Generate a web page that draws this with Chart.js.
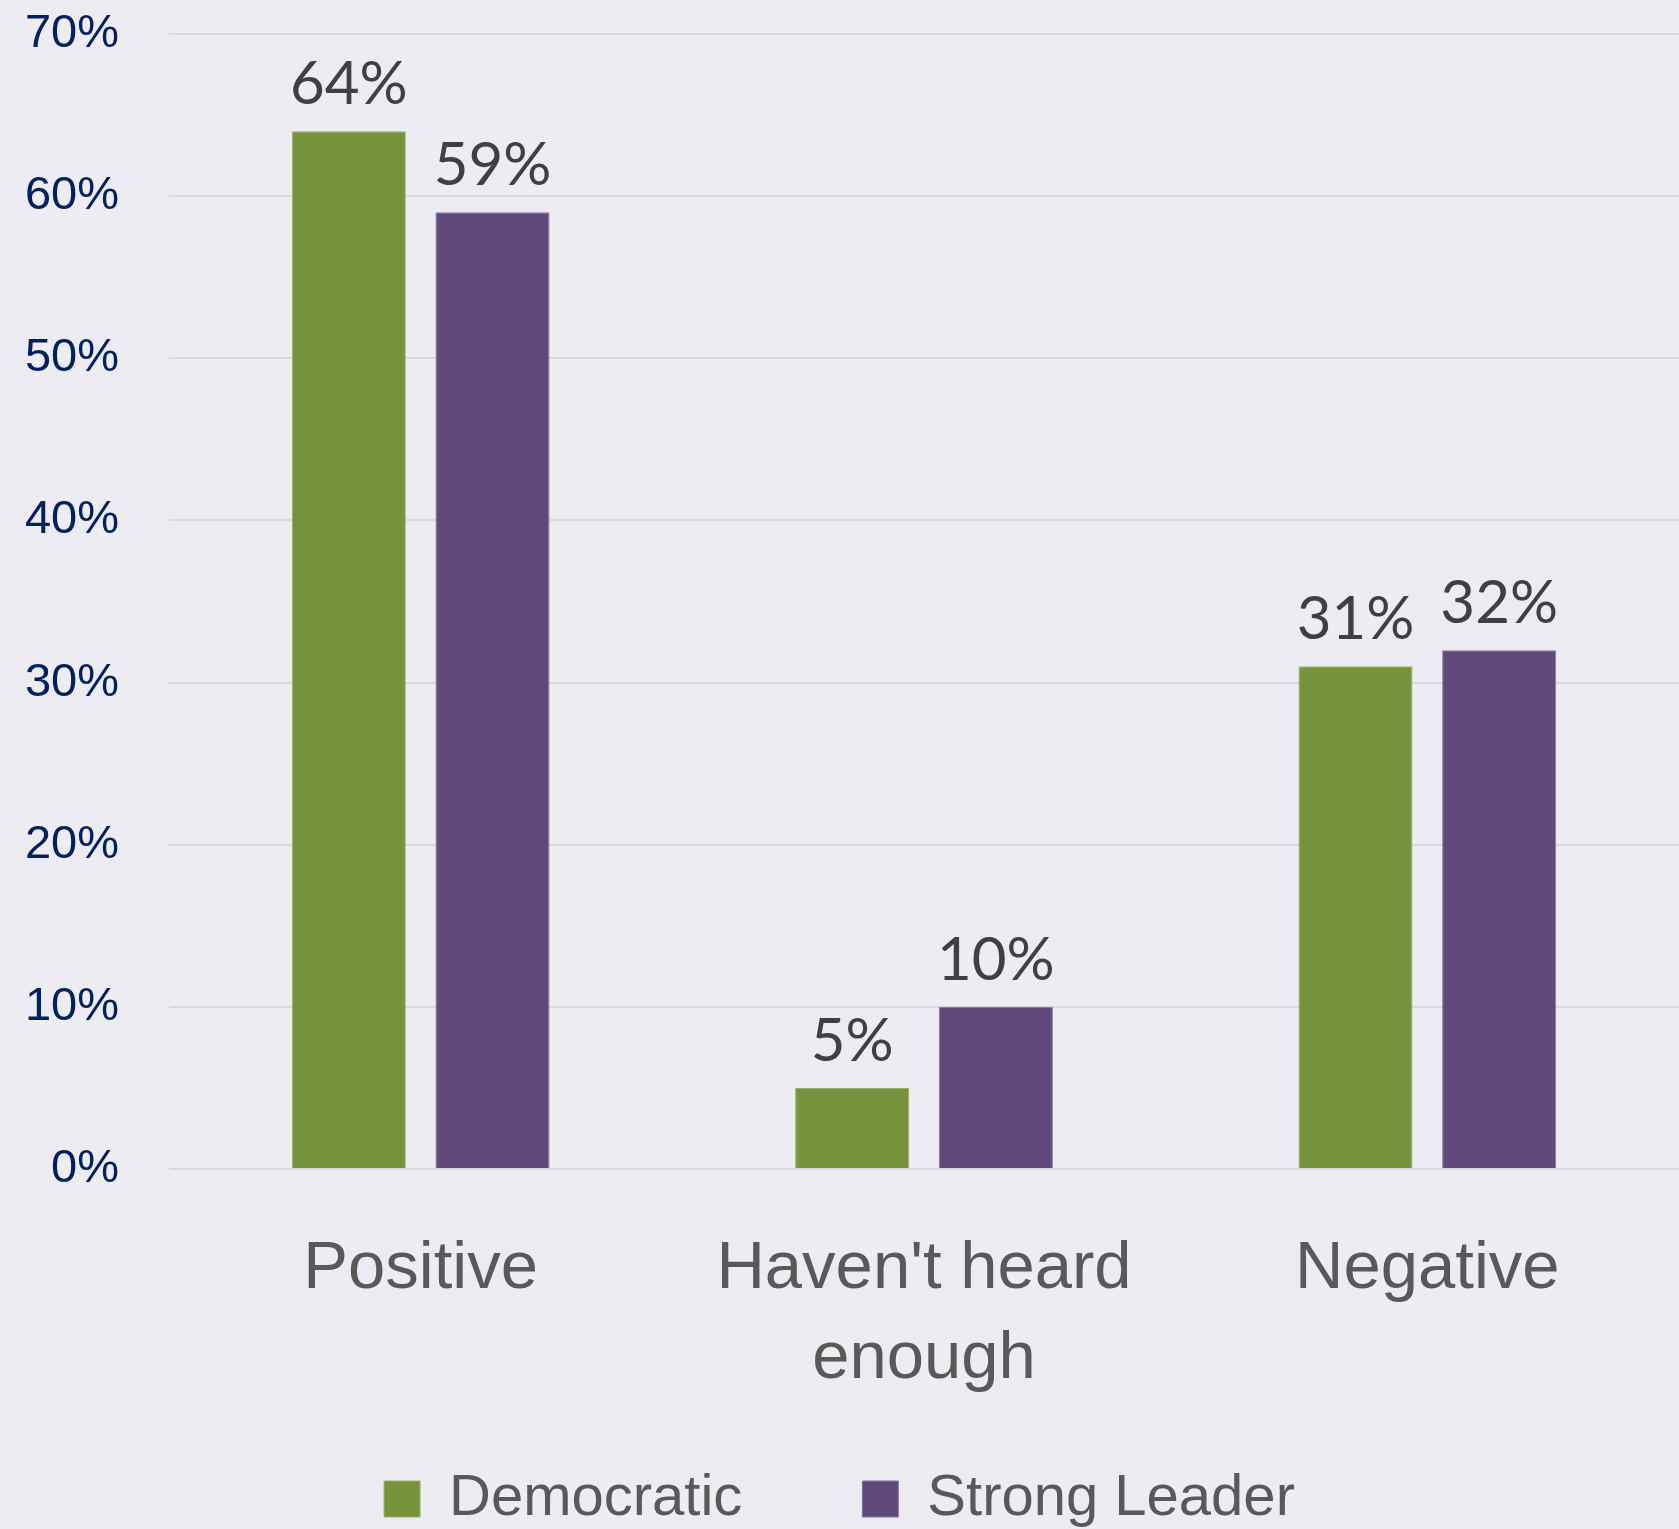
<!DOCTYPE html>
<html>
<head>
<meta charset="utf-8">
<script src="https://cdn.jsdelivr.net/npm/chart.js@4.4.1/dist/chart.umd.min.js"></script>
<style>
  html, body { margin: 0; padding: 0; background: #ECECF2; }
  #wrap { width: 1679px; height: 1529px; position: relative; }
</style>
</head>
<body>
<div id="wrap"><canvas id="c"></canvas></div>
<script>
const categories = [["Positive"], ["Haven't heard", "enough"], ["Negative"]];
const seriesNames = ["Democratic", "Strong Leader"];
const democratic = [64, 5, 31];
const strongLeader = [59, 10, 32];
const yTicks = [0, 10, 20, 30, 40, 50, 60, 70];

const GREEN = '#77933C';
const PURPLE = '#604A7B';

const dataLabels = {
  id: 'dataLabels',
  afterDatasetsDraw(chart) {
    const ctx = chart.ctx;
    ctx.save();
    ctx.font = '400 60px Lato, "Liberation Sans", sans-serif';
    ctx.fillStyle = '#404040';
    ctx.textAlign = 'center';
    ctx.textBaseline = 'alphabetic';
    chart.data.datasets.forEach((ds, di) => {
      const meta = chart.getDatasetMeta(di);
      meta.data.forEach((el, i) => {
        ctx.fillText(ds.data[i] + '%', el.x, el.y - 27);
      });
    });
    ctx.restore();
  }
};

new Chart(document.getElementById('c'), {
  type: 'bar',
  data: {
    labels: categories,
    datasets: [
      { label: seriesNames[0], data: democratic, backgroundColor: GREEN, borderColor: '#9AB06F', borderWidth: 1,
        categoryPercentage: 0.571, barPercentage: 0.794 },
      { label: seriesNames[1], data: strongLeader, backgroundColor: PURPLE, borderColor: '#8872A0', borderWidth: 1,
        categoryPercentage: 0.571, barPercentage: 0.794 }
    ]
  },
  options: {
    responsive: true,
    maintainAspectRatio: false,
    animation: false,
    layout: { padding: { top: 0, right: 0, left: 0, bottom: -9 } },
    plugins: {
      tooltip: { enabled: false },
      legend: {
        position: 'bottom',
        labels: {
          boxWidth: 36, boxHeight: 36,
          padding: 120,
          color: '#595959',
          font: { family: '"Liberation Sans", Arial, sans-serif', size: 58 }
        }
      }
    },
    scales: {
      x: {
        grid: { display: false, drawTicks: false },
        border: { display: false },
        ticks: {
          color: '#595959',
          padding: 55,
          maxRotation: 0,
          font: { family: '"Liberation Sans", Arial, sans-serif', size: 67, lineHeight: 1.35 }
        },
        afterFit(scale) {
          scale.height = 181;
          scale._computeLabelArea = () => undefined;
        }
      },
      y: {
        min: 0, max: 70,
        afterBuildTicks(scale) { scale.ticks = yTicks.map(v => ({ value: v })); },
        grid: { color: '#DADAE0', lineWidth: 2, drawTicks: false },
        border: { display: false },
        ticks: {
          color: '#002060',
          padding: 50,
          font: { family: '"Liberation Sans", Arial, sans-serif', size: 47 },
          callback: v => v + '%'
        },
        afterFit(scale) { scale.width = 169; scale.paddingTop = 34; }
      }
    }
  },
  plugins: [dataLabels]
});
</script>
</body>
</html>
